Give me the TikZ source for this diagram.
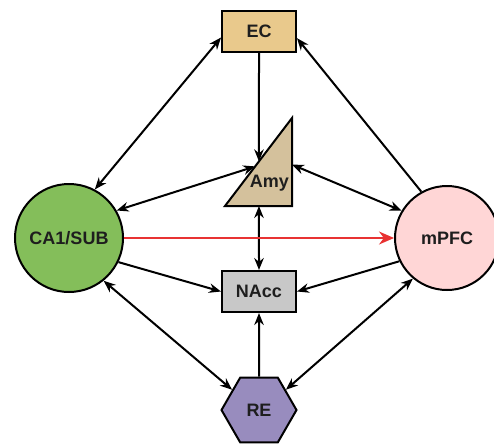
\documentclass[tikz,border=0pt]{standalone}
\usepackage{fontspec}
\setmainfont{Liberation Sans}
\usetikzlibrary{arrows.meta,shapes.geometric,calc}
\definecolor{ecfill}{RGB}{233,201,140}
\definecolor{amyfill}{RGB}{212,193,156}
\definecolor{cafill}{RGB}{132,190,90}
\definecolor{pfcfill}{RGB}{255,214,214}
\definecolor{naccfill}{RGB}{200,200,200}
\definecolor{refill}{RGB}{152,140,190}
\definecolor{flecharoja}{RGB}{232,50,50}
\definecolor{textonodo}{RGB}{30,30,30}
\begin{document}
\begin{tikzpicture}[x=1pt,y=-1pt,
  >={Stealth[length=12pt,width=9.5pt]},
  etiq/.style={font=\fontsize{18}{21}\selectfont\bfseries,text=textonodo},
  caja/.style={etiq,draw,line width=2pt,minimum width=74pt,minimum height=41pt,inner sep=0pt},
  region/.style={etiq,draw,circle,line width=2pt,inner sep=0pt},
  conex/.style={line width=2pt}]
\useasboundingbox (0,0) rectangle (494,445);

% Regiones
\node[caja,fill=ecfill] (ec) at (259,31.5) {EC};
\node[caja,fill=naccfill] (nacc) at (259,291.5) {NAcc};
\node[region,fill=cafill,minimum size=108pt] (ca1) at (69,238) {CA1/SUB};
\node[region,fill=pfcfill,minimum size=104pt] (mpfc) at (447,238) {mPFC};
\node[etiq,draw,line width=2pt,regular polygon,regular polygon sides=6,minimum size=75pt,inner sep=0pt,fill=refill] (re) at (259,410) {RE};

% Amígdala (triángulo)
\draw[fill=amyfill,line width=2pt] (225,206) coordinate (amyA) -- (292,206) coordinate (amyB) -- (292,118) coordinate (amyC) -- cycle;
\node[etiq,anchor=base] (amy) at (269.5,187) {Amy};
\coordinate (amyEC) at ($(amyA)!0.507!(amyC)$);
\coordinate (amyCA) at ($(amyA)!0.45!(amyC)$);
\coordinate (amyPF) at ($(amyB)!0.47!(amyC)$);
\coordinate (amyNA) at ($(amyA)!0.507!(amyB)$);

% Conexiones
\draw[conex,<->] (ec.189) -- (ca1.62);
\draw[conex,->] (mpfc.119) -- (ec.-10);
\draw[conex,->] (ec.south) -- (amyEC);
\draw[conex,<->] (ca1.30) -- (amyCA);
\draw[conex,<->] (amyPF) -- (mpfc.149);
\draw[conex,<->] (amyNA) -- (nacc.north);
\draw[conex,->] (ca1.-26) -- (nacc.west);
\draw[conex,->] (mpfc.206) -- (nacc.east);
\draw[conex,<->] (ca1.-51) -- (re.143);
\draw[conex,<->] (mpfc.230) -- (re.37);
\draw[conex,->] (re.north) -- (nacc.south);

% Proyección CA1/SUB -> mPFC
\draw[conex,flecharoja,-{Stealth[length=15pt,width=13pt]}] (ca1.east) -- (mpfc.west);

\end{tikzpicture}
\end{document}
